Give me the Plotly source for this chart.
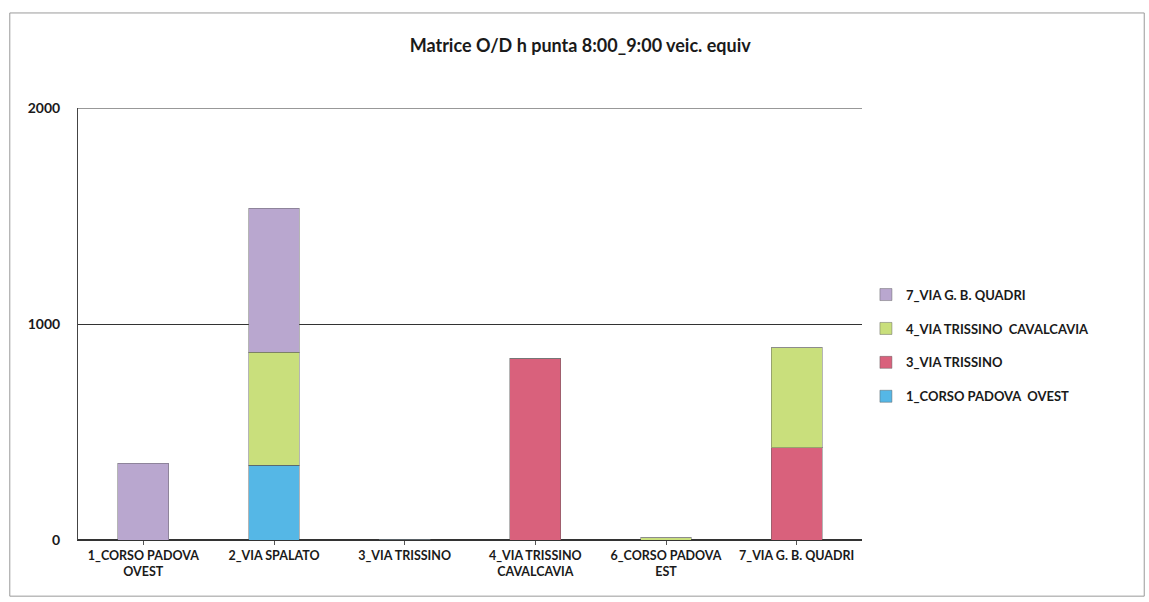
import plotly.graph_objects as go

# Origin zones (x categories)
origins = [
    "1_CORSO PADOVA<br>OVEST",
    "2_VIA SPALATO",
    "3_VIA TRISSINO",
    "4_VIA TRISSINO<br>CAVALCAVIA",
    "6_CORSO PADOVA<br>EST",
    "7_VIA G. B. QUADRI",
]

# Destination flows (veic. equiv, 8:00-9:00)
dest_1_corso_padova_ovest = [0, 347, 4, 0, 0, 0]
dest_3_via_trissino = [0, 0, 0, 838, 0, 426]
dest_4_via_trissino_cavalcavia = [0, 523, 0, 0, 10, 463]
dest_7_via_gb_quadri = [356, 667, 0, 0, 0, 0]

series = [
    ("1_CORSO PADOVA  OVEST", dest_1_corso_padova_ovest, "#55b7e6"),
    ("3_VIA TRISSINO", dest_3_via_trissino, "#d9617c"),
    ("4_VIA TRISSINO  CAVALCAVIA", dest_4_via_trissino_cavalcavia, "#c9df7c"),
    ("7_VIA G. B. QUADRI", dest_7_via_gb_quadri, "#b9a7cf"),
]

fig = go.Figure()
for i, (name, vals, color) in enumerate(series):
    fig.add_trace(go.Bar(
        x=origins, y=vals, name=name, legendgroup=name,
        legendrank=len(series) - i,  # top of the stack listed first
        marker=dict(color=color, line=dict(color="rgba(90,90,90,0.45)", width=1)),
    ))

font_family = "Lato, 'Open Sans', sans-serif"
ink = "#1a1a1a"

fig.update_layout(
    barmode="stack",
    bargap=0.61,
    width=1149, height=602,
    margin=dict(l=78, r=287, t=108, b=62),
    paper_bgcolor="white",
    plot_bgcolor="white",
    font=dict(family=font_family, color=ink, size=12),
    title=dict(
        text="Matrice O/D h punta 8:00_9:00 veic. equiv",
        x=0.505, xanchor="center", y=0.924, yanchor="middle",
        font=dict(size=18, family=font_family, color=ink, weight="bold"),
    ),
    legend=dict(
        x=1.005, xanchor="left", y=0.45, yanchor="middle",
        traceorder="grouped",
        font=dict(size=13, family=font_family, color=ink, weight="bold"),
        itemwidth=30,
        tracegroupgap=14,
    ),
    yaxis=dict(
        range=[0, 2000],
        tickvals=[0, 1000, 2000],
        showgrid=True, gridcolor="#333333", gridwidth=1,
        showline=True, linecolor="#444444", linewidth=1,
        zeroline=True, zerolinecolor="#333333",
        ticks="", ticklen=0,
        ticklabelstandoff=14,
        tickfont=dict(size=14, family=font_family, color=ink, weight="bold"),
    ),
    xaxis=dict(
        showline=True, linecolor="#333333", linewidth=1,
        ticks="outside", ticklen=4, tickcolor="#555555",
        tickfont=dict(size=12.5, family=font_family, color=ink, weight="bold"),
    ),
    shapes=[
        # frame around the whole chart
        dict(
            type="rect", xref="paper", yref="paper",
            x0=-0.087, x1=1.36, y0=-0.13, y1=1.22,
            line=dict(color="#9a9a9a", width=1),
        ),
        # gridline at the top of the value range
        dict(
            type="line", xref="paper", yref="y",
            x0=0, x1=1, y0=2000, y1=2000,
            line=dict(color="#333333", width=1),
        ),
    ],
)

fig.write_html("out.html")
